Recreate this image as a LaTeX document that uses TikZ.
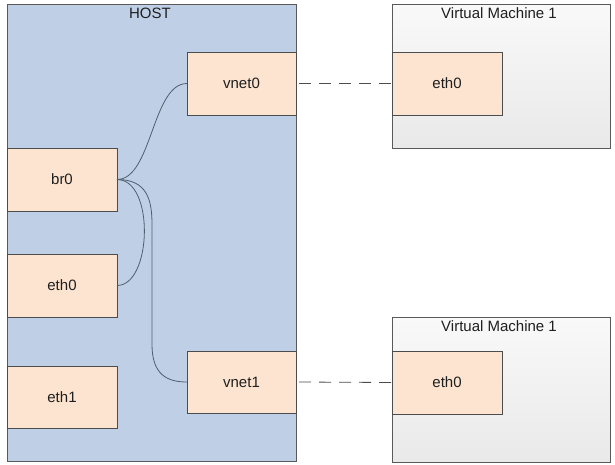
\documentclass[tikz,border=0pt]{standalone}
\usepackage{fontspec}
\setmainfont{Liberation Sans}
\begin{document}
\begin{tikzpicture}[x=1pt,y=-1pt,
  every node/.style={font=\fontsize{15}{17}\selectfont, text=black!88, outer sep=0pt, inner sep=0pt},
  hostbox/.style={draw=black!65, line width=0.9pt, fill=hostblue, minimum width=289pt, minimum height=457pt},
  vmbox/.style={draw=black!65, line width=0.7pt, top color=vmtop, bottom color=vmbot, minimum width=218pt},
  ifbox/.style={draw=black!70, line width=0.9pt, fill=peach, minimum width=110pt, minimum height=63pt},
  link/.style={draw=linkc, line width=0.8pt},
  dlink/.style={draw=black!70, line width=0.8pt, dash pattern=on 12pt off 8pt}]
\definecolor{hostblue}{HTML}{BFD0E6}
\definecolor{peach}{HTML}{FCE4D0}
\definecolor{vmtop}{HTML}{F9F9F9}
\definecolor{vmbot}{HTML}{E9E9E9}
\definecolor{linkc}{HTML}{4F5F70}
\useasboundingbox[fill=white] (0,0) rectangle (615,464);

\node[hostbox] (host) at (151.5,232.5) {};
\node (hostlbl) at (150,13) {HOST};

\node[vmbox, minimum height=144pt] (vm1) at (501,76) {};
\node (vm1lbl) at (499,13) {Virtual Machine 1};
\node[vmbox, minimum height=145pt] (vm2) at (501,389.5) {};
\node (vm2lbl) at (499,326) {Virtual Machine 1};

\node[ifbox, minimum width=109pt] (vnet0) at (241.5,83.5) {vnet0};
\node[ifbox, minimum width=109pt, minimum height=62pt] (vnet1) at (241.5,382) {vnet1};
\node[ifbox] (br0) at (62,179.5) {br0};
\node[ifbox] (eth0) at (62,285.5) {eth0};
\node[ifbox, minimum height=62pt] (eth1) at (62,397) {eth1};

\node[ifbox] (vmeth0a) at (447,83.5) {eth0};
\node[ifbox] (vmeth0b) at (447,382.5) {eth0};

\draw[link] (br0.east) .. controls +(35,0) and +(-35,0) .. (vnet0.west);
\draw[link] (br0.east) .. controls +(38,0) and +(35,0) .. (eth0.east);
\draw[link] (br0.east) .. controls +(30,0) and +(0,-25) .. ++(35,45)
   -- ++(0,120) .. controls +(0,30) and +(-20,0) .. (vnet1.west);

\draw[dlink] ([xshift=3pt]vnet0.east) -- (vmeth0a.west);
\draw[dlink] ([xshift=3pt]vnet1.east) -- (vmeth0b.west);
\end{tikzpicture}
\end{document}
